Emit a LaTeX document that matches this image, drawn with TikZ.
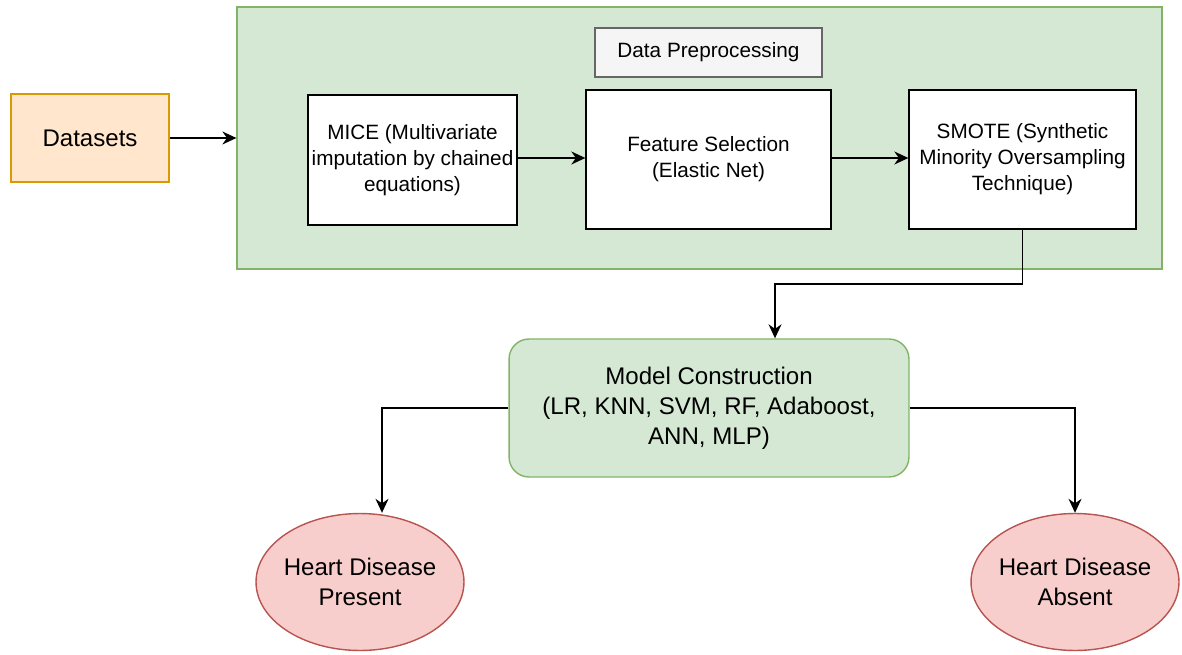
\documentclass[tikz,border=0pt]{standalone}
\usepackage{fontspec}
\setmainfont{Liberation Sans}
\usepackage{tikz}
\usetikzlibrary{arrows.meta, shapes.geometric}

\definecolor{dsfill}{HTML}{FFE6CC}
\definecolor{dsline}{HTML}{D79B00}
\definecolor{gfill}{HTML}{D5E8D4}
\definecolor{gline}{HTML}{82B366}
\definecolor{rfill}{HTML}{F8CECC}
\definecolor{rline}{HTML}{B85450}
\definecolor{lfill}{HTML}{F5F5F5}
\definecolor{lline}{HTML}{666666}

\begin{document}
\begin{tikzpicture}[x=0.02cm, y=-0.02cm,
    small/.style={font=\fontsize{11.8}{14.8}\selectfont, align=center},
    big/.style={font=\fontsize{13.7}{17}\selectfont, align=center},
    stepbox/.style={small, draw, fill=white, line width=0.8pt, inner sep=0pt},
    oval/.style={big, ellipse, draw=rline, fill=rfill, line width=0.8pt, inner xsep=-0.08cm, inner ysep=0pt, minimum width=4.16cm, minimum height=2.74cm},
    arr/.style={-{Stealth[length=0.28cm, width=0.26cm]}, line width=0.8pt}]
        \useasboundingbox (0,0) rectangle (1182,655);

        % Nodes
        \node[big, draw=dsline, fill=dsfill, line width=0.8pt, minimum width=3.16cm, minimum height=1.76cm] (data) at (90,138) {Datasets};
        \node[draw=gline, fill=gfill, line width=0.8pt, minimum width=18.5cm, minimum height=5.24cm] (prep) at (699.5,138) {};
        \node[small, draw=lline, fill=lfill, line width=0.8pt, minimum width=4.54cm, minimum height=0.98cm] (title) at (708.5,52.5) {Data Preprocessing};
        \node[stepbox, minimum width=4.18cm, minimum height=2.6cm] (mice) at (412.5,160) {MICE (Multivariate\\imputation by chained\\equations)};
        \node[stepbox, minimum width=4.9cm, minimum height=2.78cm] (feat) at (708.5,159.5) {Feature Selection\\(Elastic Net)};
        \node[stepbox, minimum width=4.54cm, minimum height=2.78cm] (smote) at (1022.5,159.5) {SMOTE (Synthetic\\Minority Oversampling\\Technique)};
        \node[big, draw=gline, fill=gfill, line width=0.8pt, rounded corners=0.4cm, minimum width=8cm, minimum height=2.76cm] (model) at (709,408) {Model Construction\\(LR, KNN, SVM, RF, Adaboost,\\ANN, MLP)};
        \node[oval] (present) at (360,582) {Heart Disease\\Present};
        \node[oval] (absent) at (1075,582) {Heart Disease\\Absent};

        \coordinate (k1) at (775,284);
        \coordinate (k2) at (382,408);

        % Arrows
        \draw[arr] (data) -- (prep.west |- data);
        \draw[arr] (mice.east |- 0,158) -- (feat.west |- 0,158);
        \draw[arr] (feat.east |- 0,158) -- (smote.west |- 0,158);
        \draw[arr] (smote.south) |- (k1) -- (k1 |- model.north);
        \draw[arr] (model.west) -- (k2) -- (k2 |- present.north);
        \draw[arr] (model.east) -| (absent.north);

    \end{tikzpicture}
\end{document}
